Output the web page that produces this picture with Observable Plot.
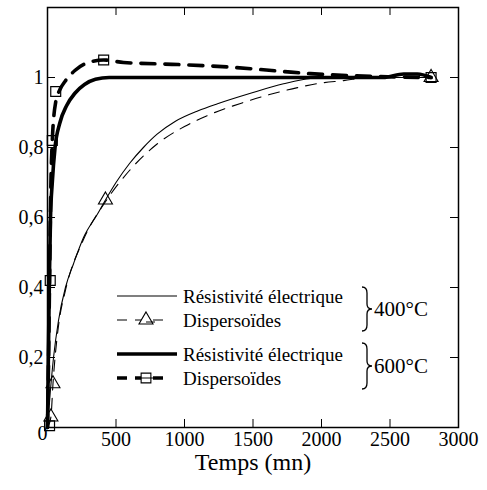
<!DOCTYPE html>
<html><head><meta charset="utf-8">
<script src="https://cdn.jsdelivr.net/npm/d3@7"></script>
<script src="https://cdn.jsdelivr.net/npm/@observablehq/plot@0.6"></script>
<style>
body{margin:0;background:#fff;}
#chart{position:relative;width:487px;height:490px;}
#chart svg{position:absolute;left:0;top:0;}
#chart svg text{font-family:'Liberation Serif','Times New Roman','DejaVu Serif',serif !important;}
</style></head><body><div id="chart"></div>
<script>
// ---- data ----
const xTicks = [500, 1000, 1500, 2000, 2500, 3000];
const yTicks = [0.2, 0.4, 0.6, 0.8, 1];
const xLabel = "Temps (mn)";
const legendLabels = ["Résistivité électrique", "Dispersoïdes", "Résistivité électrique", "Dispersoïdes"];
const groupLabels = ["400°C", "600°C"];

// 400°C résistivité électrique (thin solid)
const res400T = [0, 20, 44, 80, 131, 190, 263, 365, 423, 500, 600, 700, 800, 934, 1100, 1241, 1482, 1723, 1920, 2100, 2800];
const res400V = [0, 0.1, 0.2, 0.305, 0.4, 0.468, 0.543, 0.61, 0.65, 0.7, 0.755, 0.8, 0.838, 0.875, 0.905, 0.925, 0.955, 0.982, 0.997, 1.0, 1.0];
// 400°C dispersoïdes (thin dashed) + triangles
const disp400T = [0, 25, 40, 80, 130, 260, 423, 600, 800, 1000, 1190, 1409, 1628, 1825, 1993, 2161, 2350, 2800];
const disp400V = [0, 0.03, 0.125, 0.29, 0.39, 0.535, 0.645, 0.735, 0.81, 0.86, 0.895, 0.926, 0.952, 0.971, 0.984, 0.991, 1.0, 1.0];
const disp400PtsT = [25, 40, 423, 2800];
const disp400PtsV = [0.03, 0.125, 0.65, 1.0];
// 600°C résistivité électrique (thick solid)
const res600T = [0, 8, 15, 22, 35, 55, 90, 140, 200, 270, 350, 450, 1000, 1500, 2000, 2450, 2600, 2700, 2800];
const res600V = [0, 0.25, 0.45, 0.6, 0.7, 0.8, 0.87, 0.92, 0.955, 0.98, 0.995, 1.0, 1.0, 1.0, 1.0, 1.0, 1.01, 1.01, 1.0];
// 600°C dispersoïdes (thick dashed) + squares
const disp600T = [0, 8, 15, 25, 35, 60, 90, 130, 200, 280, 410, 555, 955, 1357, 1723, 1920, 2380, 2800];
const disp600V = [0, 0.2, 0.42, 0.7, 0.82, 0.93, 0.965, 0.99, 1.02, 1.04, 1.05, 1.043, 1.037, 1.029, 1.017, 1.011, 1.003, 1.0];
const disp600PtsT = [15, 20, 35, 60, 410, 2800];
const disp600PtsV = [0.005, 0.42, 0.82, 0.96, 1.05, 1.0];

// ---- layout ----
const W = 487, H = 490, mL = 47, mR = 29, mT = 7, mB = 63;
const fw = W - mL - mR, fh = H - mT - mB, tick = 8;
const font = "'Liberation Serif', 'Times New Roman', 'DejaVu Serif', serif";
const rows = (ts, vs) => ts.map((t, i) => ({t, v: vs[i]}));
const thin = 1.1, thick = 3.6;
const thinDash = "11,8", thickDash = "14,10";

const plot = Plot.plot({
  width: W, height: H,
  marginLeft: mL, marginRight: mR, marginTop: mT, marginBottom: mB,
  style: {fontFamily: font, fontSize: "20px", color: "#000", background: "transparent"},
  x: {domain: [0, 3000]},
  y: {domain: [0, 1.2]},
  marks: [
    Plot.frame({stroke: "#000", strokeWidth: 1.5}),
    Plot.ruleX(xTicks.slice(0, -1), {x: d => d, insetTop: fh - tick, stroke: "#000"}),
    Plot.ruleX(xTicks.slice(0, -1), {x: d => d, insetBottom: fh - tick, stroke: "#000"}),
    Plot.ruleY(yTicks, {y: d => d, insetRight: fw - tick, stroke: "#000"}),
    Plot.ruleY(yTicks, {y: d => d, insetLeft: fw - tick, stroke: "#000"}),
    Plot.axisX(xTicks, {tickSize: 0, tickPadding: 4, label: null, fontSize: 20, tickFormat: d => String(d)}),
    Plot.axisY(yTicks, {tickSize: 0, tickPadding: 4, label: null, fontSize: 20, tickFormat: d => String(d).replace(".", ",")}),
    Plot.text(["0"], {frameAnchor: "bottom-left", dx: -10, dy: 12, fontSize: 20}),
    Plot.text([xLabel], {frameAnchor: "bottom", dy: 42, fontSize: 24}),
    Plot.line(rows(res400T, res400V), {x: "t", y: "v", curve: "monotone-x", stroke: "#000", strokeWidth: thin}),
    Plot.line(rows(disp400T, disp400V), {x: "t", y: "v", curve: "monotone-x", stroke: "#000", strokeWidth: thin, strokeDasharray: thinDash}),
    Plot.line(rows(res600T, res600V), {x: "t", y: "v", curve: "monotone-x", stroke: "#000", strokeWidth: thick}),
    Plot.line(rows(disp600T, disp600V), {x: "t", y: "v", curve: "monotone-x", stroke: "#000", strokeWidth: thick, strokeDasharray: thickDash}),
    Plot.dot(rows(disp600PtsT, disp600PtsV), {x: "t", y: "v", symbol: "square", r: 5.6, stroke: "#000", strokeWidth: 1.2, fill: "none"}),
    Plot.dot(rows(disp400PtsT, disp400PtsV), {x: "t", y: "v", symbol: "triangle", r: 5.2, stroke: "#000", strokeWidth: 1.1, fill: "none"})
  ]
});
document.getElementById("chart").appendChild(plot);

// ---- legend overlay ----
const leg = d3.select("#chart").append("svg").attr("width", W).attr("height", H)
  .style("font-family", font).style("pointer-events", "none");
const lx0 = 117, ltx = 183;
const legRows = [
  {y: 296, w: thin, dash: null, sym: null},
  {y: 320, w: thin, dash: "10,8", sym: "triangle"},
  {y: 354, w: thick, dash: null, sym: null},
  {y: 378, w: thick, dash: "10,8", sym: "square"}
];
legRows.forEach((r, i) => {
  leg.append("line").attr("x1", lx0).attr("x2", i % 2 ? 170 : 177).attr("y1", r.y).attr("y2", r.y)
    .attr("stroke", "#000").attr("stroke-width", r.w).attr("stroke-dasharray", r.dash);
  if (r.sym) {
    leg.append("path").attr("transform", `translate(146,${r.y})`)
      .attr("d", d3.symbol(r.sym === "square" ? d3.symbolSquare : d3.symbolTriangle, r.sym === "square" ? 95 : 85)())
      .attr("fill", "#fff").attr("stroke", "#000").attr("stroke-width", 1.1);
    if (r.sym === "square") leg.append("line").attr("x1", 141).attr("x2", 156).attr("y1", r.y).attr("y2", r.y).attr("stroke", "#000").attr("stroke-width", 1);
    else leg.append("line").attr("x1", 146).attr("x2", 155).attr("y1", r.y + 2).attr("y2", r.y + 2).attr("stroke", "#000").attr("stroke-width", 1);
  }
  leg.append("text").attr("x", ltx).attr("y", r.y).attr("dy", "0.35em")
    .attr("font-size", 19).attr("font-family", font).text(legendLabels[i]);
});
const brace = (x, y0, y1) => {
  const m = (y0 + y1) / 2;
  return `M${x},${y0} Q${x + 5},${y0} ${x + 5},${y0 + 6} L${x + 5},${m - 5} Q${x + 5},${m} ${x + 10},${m} Q${x + 5},${m} ${x + 5},${m + 5} L${x + 5},${y1 - 6} Q${x + 5},${y1} ${x},${y1}`;
};
[[287, 331], [343, 389]].forEach(([a, b], i) => {
  leg.append("path").attr("d", brace(362, a, b)).attr("fill", "none").attr("stroke", "#000").attr("stroke-width", 1.3);
  leg.append("text").attr("x", 374).attr("y", (a + b) / 2).attr("dy", "0.35em").attr("font-size", 21)
    .attr("font-family", font).text(groupLabels[i]);
});
</script></body></html>
